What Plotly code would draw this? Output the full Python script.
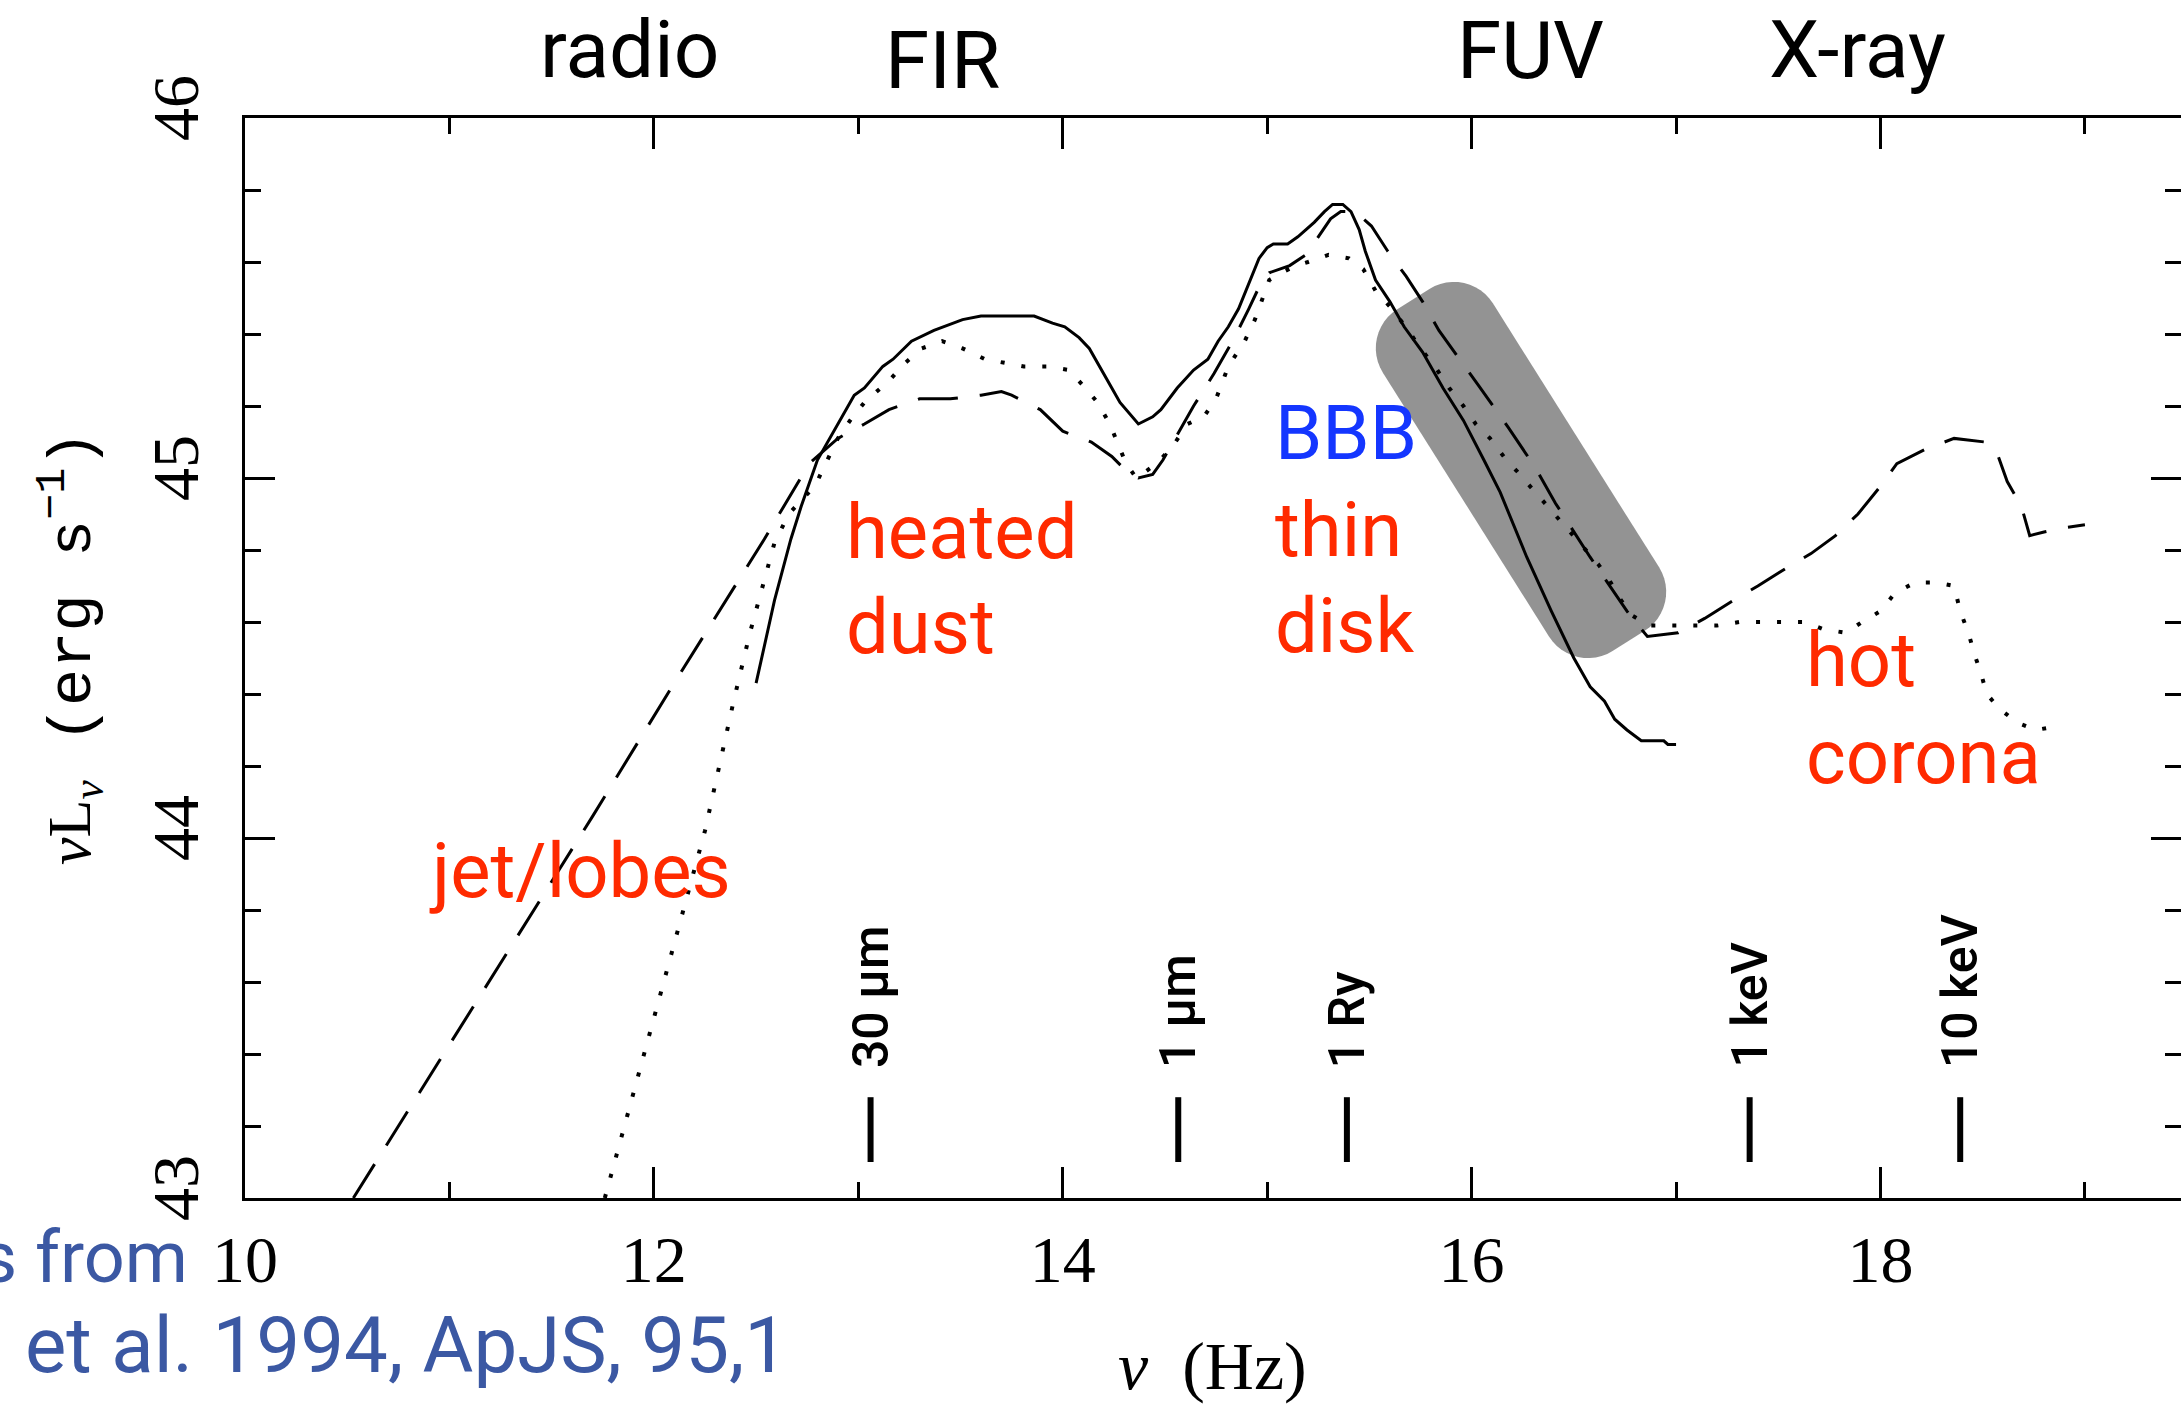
import math
import plotly.graph_objects as go

# ---------------- data ----------------
# log10(nu / Hz) and log10(nu L_nu / erg s^-1)
solid_x = [12.50, 12.59, 12.67, 12.72, 12.80, 12.90, 12.98, 13.03, 13.12, 13.17,
           13.26, 13.37, 13.51, 13.60, 13.86, 13.95, 14.01, 14.08, 14.13, 14.24,
           14.28, 14.37, 14.44, 14.48, 14.56, 14.64, 14.71, 14.76, 14.81, 14.86,
           14.91, 14.96, 15.00, 15.03, 15.10, 15.15, 15.19, 15.23, 15.28, 15.32,
           15.37, 15.41, 15.45, 15.48, 15.53, 15.60, 15.67, 15.76, 15.86, 15.96,
           16.06, 16.14, 16.27, 16.39, 16.50, 16.58, 16.65, 16.70, 16.76, 16.83,
           16.94, 16.96, 17.00]
solid_y = [44.43, 44.66, 44.83, 44.92, 45.05, 45.15, 45.23, 45.25, 45.31, 45.33,
           45.38, 45.41, 45.44, 45.45, 45.45, 45.43, 45.42, 45.39, 45.36, 45.25,
           45.21, 45.15, 45.17, 45.19, 45.25, 45.30, 45.33, 45.38, 45.42, 45.47,
           45.54, 45.61, 45.64, 45.65, 45.65, 45.67, 45.69, 45.71, 45.74, 45.76,
           45.76, 45.74, 45.69, 45.63, 45.55, 45.49, 45.42, 45.35, 45.25, 45.16,
           45.05, 44.96, 44.78, 44.63, 44.50, 44.42, 44.38, 44.33, 44.30, 44.27,
           44.27, 44.26, 44.26]

dashed_x = [10.53, 11.15, 11.70, 12.11, 12.54, 12.76, 12.90, 13.03, 13.15, 13.30,
            13.45, 13.60, 13.70, 13.75, 13.89, 14.00, 14.14, 14.24, 14.31, 14.37,
            14.44, 14.49, 14.56, 14.64, 14.74, 14.84, 14.91, 14.96, 15.01, 15.11,
            15.19, 15.26, 15.31, 15.36, 15.43, 15.51, 15.59, 15.68, 15.76, 15.84,
            15.93, 16.03, 16.18, 16.31, 16.41, 16.58, 16.76, 16.80, 16.86, 17.01,
            17.14, 17.28, 17.40, 17.54, 17.66, 17.78, 17.89, 17.99, 18.08, 18.22,
            18.36, 18.51, 18.57, 18.62, 18.69, 18.73, 18.80, 18.88, 19.00]
dashed_y = [43.00, 43.56, 44.06, 44.44, 44.83, 45.04, 45.11, 45.15, 45.19, 45.22,
            45.22, 45.23, 45.24, 45.23, 45.19, 45.13, 45.10, 45.06, 45.02, 45.00,
            45.01, 45.05, 45.12, 45.20, 45.29, 45.39, 45.47, 45.53, 45.57, 45.59,
            45.62, 45.68, 45.72, 45.74, 45.74, 45.70, 45.63, 45.56, 45.49, 45.41,
            45.34, 45.26, 45.14, 45.03, 44.93, 44.78, 44.63, 44.60, 44.56, 44.57,
            44.61, 44.66, 44.70, 44.75, 44.79, 44.84, 44.90, 44.97, 45.04, 45.08,
            45.11, 45.10, 45.07, 44.99, 44.92, 44.84, 44.85, 44.86, 44.87]

dotted_x = [11.76, 12.02, 12.16, 12.25, 12.32, 12.39, 12.47, 12.54, 12.59, 12.66,
            12.79, 12.84, 12.90, 12.96, 13.03, 13.09, 13.15, 13.23, 13.31, 13.41,
            13.51, 13.62, 13.71, 13.81, 13.92, 14.03, 14.11, 14.17, 14.23, 14.26,
            14.31, 14.36, 14.46, 14.54, 14.61, 14.69, 14.75, 14.81, 14.89, 14.94,
            14.98, 15.01, 15.07, 15.14, 15.20, 15.30, 15.40, 15.47, 15.53, 15.61,
            15.69, 15.75, 15.82, 15.89, 15.96, 16.02, 16.09, 16.17, 16.22, 16.36,
            16.53, 16.62, 16.67, 16.72, 16.78, 16.87, 16.99, 17.09, 17.20, 17.31,
            17.41, 17.52, 17.63, 17.72, 17.83, 17.91, 18.00, 18.07, 18.17, 18.27,
            18.36, 18.39, 18.43, 18.46, 18.49, 18.52, 18.58, 18.67, 18.76, 18.86]
dotted_y = [43.00, 43.54, 43.83, 44.02, 44.20, 44.38, 44.57, 44.71, 44.82, 44.90,
            44.98, 45.04, 45.11, 45.16, 45.21, 45.24, 45.27, 45.32, 45.36, 45.38,
            45.36, 45.33, 45.32, 45.31, 45.31, 45.30, 45.25, 45.21, 45.15, 45.11,
            45.04, 45.00, 45.04, 45.09, 45.15, 45.17, 45.22, 45.31, 45.38, 45.44,
            45.50, 45.55, 45.57, 45.59, 45.60, 45.62, 45.61, 45.58, 45.52, 45.47,
            45.41, 45.36, 45.31, 45.25, 45.20, 45.15, 45.11, 45.05, 45.02, 44.93,
            44.82, 44.76, 44.72, 44.67, 44.62, 44.59, 44.59, 44.59, 44.59, 44.60,
            44.60, 44.60, 44.60, 44.58, 44.57, 44.60, 44.63, 44.68, 44.71, 44.71,
            44.70, 44.63, 44.57, 44.51, 44.46, 44.40, 44.36, 44.32, 44.30, 44.31]

band_labels = ["radio", "FIR", "FUV", "X-ray"]
band_x = [11.88, 13.41, 16.29, 17.89]

marker_labels = ["30 µm", "1 µm", "1 Ry", "1 keV", "10 keV"]
marker_x = [13.06, 14.565, 15.39, 17.36, 18.39]
marker_bar_y = [43.10, 43.28]

region_labels = ["jet/lobes", "heated", "dust", "BBB", "thin", "disk", "hot", "corona"]
credit_lines = ["s from", "et al. 1994, ApJS, 95,1"]

x_range = [10, 19.47]
y_range = [43, 46]
x_ticks_major = [10, 12, 14, 16, 18]
y_ticks_major = [43, 44, 45, 46]

# ---------------- layout geometry (pixels) ----------------
W, H = 2181, 1405
PL, PR, PT, PB = 245, 2181, 118, 1198


def xd(px):
    return x_range[0] + (px - PL) / (PR - PL) * (x_range[1] - x_range[0])


def yd(py):
    return y_range[1] - (py - PT) / (PB - PT) * (y_range[1] - y_range[0])


def xp(px):
    return (px - PL) / (PR - PL)


def yp(py):
    return (PB - py) / (PB - PT)


RED = "#ff2a00"
BLUE = "#1436ff"
CREDIT = "#3b58a3"
SANS = "Roboto, 'Noto Sans', sans-serif"
SERIF = "'Liberation Serif', 'DejaVu Serif', serif"
MONO = "'Liberation Mono', 'DejaVu Sans Mono', monospace"

fig = go.Figure()

common = dict(mode="lines", hoverinfo="skip", showlegend=False)
fig.add_trace(go.Scatter(x=solid_x, y=solid_y, line=dict(color="black", width=3), **common))
fig.add_trace(go.Scatter(x=dashed_x, y=dashed_y,
                         line=dict(color="black", width=3, dash="40px,22px"), **common))
fig.add_trace(go.Scatter(x=dotted_x, y=dotted_y,
                         line=dict(color="black", width=4, dash="4px,17px"), **common))

bar_x, bar_y = [], []
for mx in marker_x:
    bar_x += [mx, mx, None]
    bar_y += [marker_bar_y[0], marker_bar_y[1], None]
fig.add_trace(go.Scatter(x=bar_x, y=bar_y, line=dict(color="black", width=6), **common))
# empty trace for the right-hand tick axis
fig.add_trace(go.Scatter(x=[None], y=[None], yaxis="y2", **common))

# ---------------- shaded highlight (rounded, rotated box) ----------------
BOX_C = (1521, 470)
BOX_HALF_LEN, BOX_HALF_WID, BOX_R, BOX_ANG = 202, 65, 46, 57.8
a = math.radians(BOX_ANG)
u = (math.cos(a), math.sin(a))
v = (-math.sin(a), math.cos(a))
pts = []
corners = [(1, 1, 0), (-1, 1, 90), (-1, -1, 180), (1, -1, 270)]
for sx, sy, a0 in corners:
    cs = sx * (BOX_HALF_LEN - BOX_R)
    ct = sy * (BOX_HALF_WID - BOX_R)
    for k in range(13):
        th = math.radians(a0 + 90 * k / 12)
        s = cs + BOX_R * math.cos(th)
        t = ct + BOX_R * math.sin(th)
        px = BOX_C[0] + s * u[0] + t * v[0]
        py = BOX_C[1] + s * u[1] + t * v[1]
        pts.append((xd(px), yd(py)))
path = "M " + " L ".join(f"{x:.5f},{y:.5f}" for x, y in pts) + " Z"
fig.add_shape(type="path", path=path, xref="x", yref="y", layer="below",
              fillcolor="#939393", line=dict(width=0))

# ---------------- annotations ----------------
ann = []
# band labels above the frame
BAND_FS = 80
band_base_px = [77, 88, 78, 77]
for txt, bx, bb in zip(band_labels, band_x, band_base_px):
    ann.append(dict(text=txt, x=bx, xref="x", y=yp(bb - 0.34 * BAND_FS), yref="paper",
                    xanchor="center", yanchor="middle", showarrow=False,
                    font=dict(family=SANS, size=BAND_FS, color="black")))

# region labels (left edge px, baseline px, colour)
REG_FS = 76
region_pos = [(427, 897), (844, 558), (844, 653), (1273, 459), (1273, 556), (1273, 652),
              (1804, 686), (1804, 783)]
region_col = [RED, RED, RED, BLUE, RED, RED, RED, RED]
for txt, (lx, bl), col in zip(region_labels, region_pos, region_col):
    ann.append(dict(text=txt, x=xp(lx), xref="paper", y=yp(bl - 0.34 * REG_FS), yref="paper",
                    xanchor="left", yanchor="middle", showarrow=False,
                    font=dict(family=SANS, size=REG_FS, color=col)))

# rotated reference-frequency labels
MK_FS = 50
for txt, mx in zip(marker_labels, marker_x):
    ann.append(dict(text=txt, x=mx, xref="x", y=yd(1070), yref="y", textangle=-90,
                    xanchor="center", yanchor="bottom", showarrow=False,
                    font=dict(family=SANS, size=MK_FS, color="black", weight=500)))

# credit (cut by the left page edge)
ann.append(dict(text=credit_lines[0], x=xp(190), xref="paper", y=yp(1282 - 0.34 * 72),
                yref="paper", xanchor="right", yanchor="middle", showarrow=False,
                font=dict(family=SANS, size=72, color=CREDIT)))
ann.append(dict(text=credit_lines[1], x=xp(23), xref="paper", y=yp(1372 - 0.34 * 78),
                yref="paper", xanchor="left", yanchor="middle", showarrow=False,
                font=dict(family=SANS, size=78, color=CREDIT)))

# axis titles
ann.append(dict(text="<span style=\"font-family:'Liberation Serif'\"><i>ν</i>L<sub><i>ν</i></sub></span>"
                     " (erg s<sup>−1</sup>)",
                x=xp(70), xref="paper", y=yp(648), yref="paper", textangle=-90,
                xanchor="center", yanchor="middle", showarrow=False,
                font=dict(family=MONO, size=62, color="black")))
ann.append(dict(text="<i>ν</i>&nbsp;&nbsp;(Hz)", x=xp(1212), xref="paper", y=yp(1366),
                yref="paper", xanchor="center", yanchor="middle", showarrow=False,
                font=dict(family=SERIF, size=68, color="black")))

tickfont = dict(family=SERIF, size=66, color="black")
minor_x = dict(dtick=1, tick0=10, ticklen=16, tickwidth=3, ticks="inside", tickcolor="black")
minor_y = dict(dtick=0.2, tick0=43, ticklen=16, tickwidth=3, ticks="inside", tickcolor="black")

fig.update_layout(
    template="none",
    width=W, height=H,
    margin=dict(l=PL, r=W - PR, t=PT, b=H - PB, pad=0),
    paper_bgcolor="white", plot_bgcolor="white",
    showlegend=False,
    annotations=ann,
    xaxis=dict(range=x_range, showline=True, linewidth=3, linecolor="black", mirror="ticks",
               ticks="inside", ticklen=31, tickwidth=3, tickcolor="black",
               tickvals=x_ticks_major, ticktext=[str(t) for t in x_ticks_major],
               minor=minor_x, showgrid=False, zeroline=False, tickfont=tickfont,
               ticklabelstandoff=2, automargin=False, fixedrange=True),
    yaxis=dict(range=y_range, showline=True, linewidth=3, linecolor="black", mirror=False,
               ticks="inside", ticklen=30, tickwidth=3, tickcolor="black",
               tickvals=y_ticks_major, ticktext=[str(t) for t in y_ticks_major],
               minor=minor_y, showgrid=False, zeroline=False, tickfont=tickfont,
               tickangle=-90, ticklabelstandoff=18, automargin=False, fixedrange=True),
    yaxis2=dict(range=y_range, overlaying="y", side="right", anchor="x", showline=False,
                ticks="inside", ticklen=30, tickwidth=3, tickcolor="black",
                tickvals=y_ticks_major, minor=minor_y, showticklabels=False,
                showgrid=False, zeroline=False, automargin=False, fixedrange=True),
)

fig.write_html("out.html")
